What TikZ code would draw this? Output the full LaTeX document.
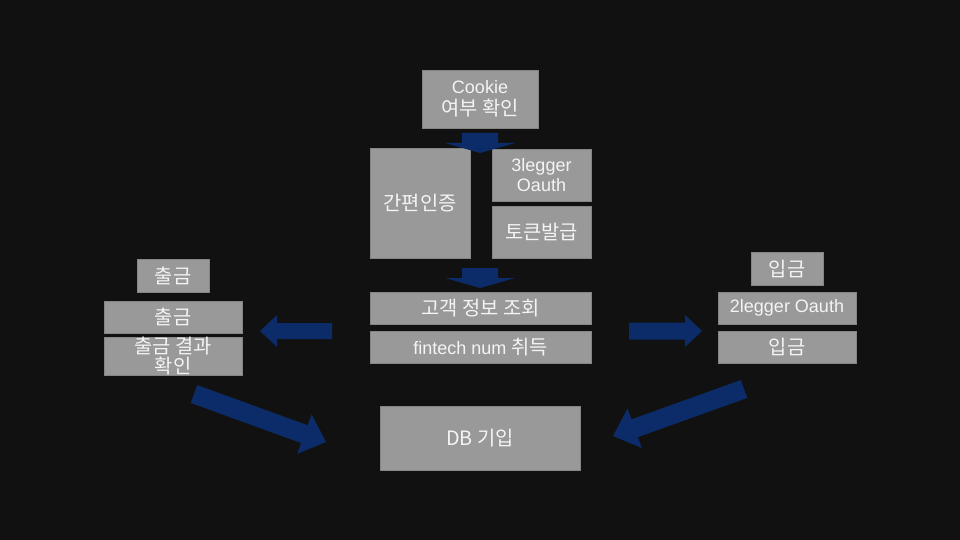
\documentclass[tikz,border=0pt]{standalone}
\usepackage{fontspec}
\setmainfont{Liberation Sans}
\newfontfamily\kr[Scale=1.1]{Noto Sans CJK KR}
\usetikzlibrary{calc}
\definecolor{bgc}{HTML}{111111}
\definecolor{boxc}{HTML}{999999}
\definecolor{boxl}{HTML}{858585}
\definecolor{arrc}{HTML}{0B2C68}
\definecolor{txtc}{HTML}{F4F4F4}
% #1 start, #2 tip, #3 half shaft width, #4 half head width, #5 head length
\newcommand{\blockarr}[5]{%
  \coordinate (hb) at ($(#2)!#5!(#1)$);
  \fill[arrc] ($(#1)!#3!90:(#2)$) -- ($(hb)!#3!90:(#2)$) -- ($(hb)!#4!90:(#2)$)
    -- (#2) -- ($(hb)!#4!-90:(#2)$) -- ($(hb)!#3!-90:(#2)$) -- ($(#1)!#3!-90:(#2)$) -- cycle;
}
\tikzset{
  box/.style={draw=boxl, line width=0.6pt, fill=boxc, text=txtc, inner sep=0pt,
    align=center, font=\fontsize{18}{20}\selectfont},
}
\begin{document}
\begin{tikzpicture}[x=1pt,y=-1pt]
\useasboundingbox (0,0) rectangle (960,540);
\fill[bgc] (0,0) rectangle (960,540);

% centre column
\node[box, minimum width=116pt, minimum height=58pt] (cookie) at (480,99) {Cookie\\[2.5pt]{\kr 여부 확인}};
\node[box, minimum width=100pt, minimum height=110pt] (gan) at (420,203) {\kr 간편인증};
\node[box, minimum width=99pt, minimum height=52pt] (leg3) at (541.5,175) {3legger\\Oauth};
\node[box, minimum width=99pt, minimum height=52pt] (token) at (541.5,232) {\kr 토큰발급};
\node[box, minimum width=221pt, minimum height=32pt] (cust) at (480.5,308) {\kr 고객 정보 조회};
\node[box, minimum width=221pt, minimum height=32pt] (fin) at (480.5,347) {fintech num {\kr 취득}};

% left column
\node[box, minimum width=72pt, minimum height=33pt] (outh) at (173,275.5) {\kr 출금};
\node[box, minimum width=138pt, minimum height=32pt] (out) at (173,317) {\kr 출금};
\node[box, minimum width=138pt, minimum height=32pt] (outres) at (173,356) {\kr 출금 결과\\\kr 확인};

% right column
\node[box, minimum width=72pt, minimum height=33pt] (inh) at (787,268.5) {\kr 입금};
\node[box, minimum width=138pt, minimum height=32pt] (leg2) at (787,308) {2legger Oauth};
\node[box, minimum width=138pt, minimum height=32pt] (in) at (787,347) {\kr 입금};

% bottom
\node[box, minimum width=200pt, minimum height=64pt] (db) at (480,438) {\kr DB 기입};

% block arrows
\coordinate (a1s) at (480,133); \coordinate (a1t) at (480,153);
\blockarr{a1s}{a1t}{18pt}{35pt}{10pt}
\coordinate (a2s) at (480,268); \coordinate (a2t) at (480,288);
\blockarr{a2s}{a2t}{18pt}{35pt}{10pt}
\coordinate (a3s) at (332,331); \coordinate (a3t) at (260,331);
\blockarr{a3s}{a3t}{8pt}{16pt}{17pt}
\coordinate (a4s) at (629,331); \coordinate (a4t) at (702,331);
\blockarr{a4s}{a4t}{8.5pt}{16pt}{17pt}
\coordinate (a5s) at (194,394); \coordinate (a5t) at (326,442);
\blockarr{a5s}{a5t}{9.5pt}{21pt}{23pt}
\coordinate (a6s) at (744,389); \coordinate (a6t) at (613,436);
\blockarr{a6s}{a6t}{9.5pt}{21pt}{23pt}
\end{tikzpicture}
\end{document}
